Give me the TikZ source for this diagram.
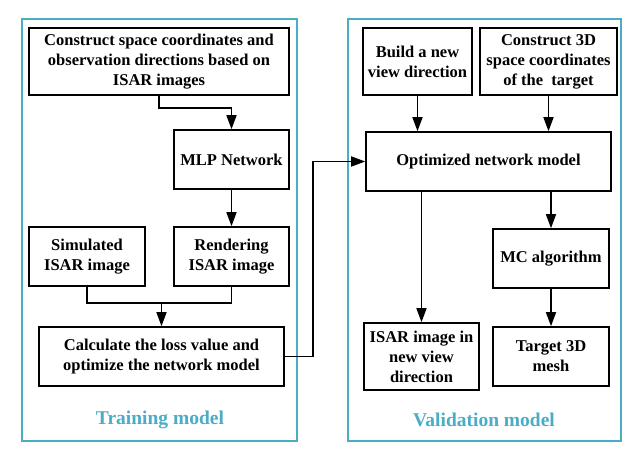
\documentclass[tikz,border=0pt]{standalone}
\usepackage{fontspec}
\setmainfont{Liberation Serif}
\usetikzlibrary{arrows.meta,calc}

\definecolor{panelblue}{RGB}{75,172,198}

\tikzset{
  box/.style={draw, line width=1.6pt, align=center, inner sep=1pt,
    font=\fontsize{16.5}{20}\selectfont\bfseries},
  panel/.style={draw=panelblue, line width=1.6pt},
  paneltitle/.style={text=panelblue, font=\fontsize{19.5}{22}\selectfont\bfseries},
  line/.style={line width=1.6pt},
  arrow/.style={line, -{Triangle[length=14pt,width=10pt]}}
}

\begin{document}
\begin{tikzpicture}[x=1pt,y=-1pt]
    \useasboundingbox (0,0) rectangle (642,455);
    \draw[panel] (22,19) rectangle (297,441);
    \draw[panel] (348,19) rectangle (621,441);
    \node[paneltitle] (trainlabel) at (160,420) {Training model};
    \node[paneltitle] (validlabel) at (484,420) {Validation model};

    \node[box, minimum width=260pt, minimum height=67pt] (construct) at (159,61.5)
      {Construct space coordinates and\\observation directions based on\\ISAR images};
    \node[box, minimum width=115pt, minimum height=59pt] (mlp) at (231.5,159.5) {MLP Network};
    \node[box, minimum width=116pt, minimum height=59pt] (simulated) at (87,256.5) {Simulated\\ISAR image};
    \node[box, minimum width=115pt, minimum height=59pt] (rendering) at (231.5,256.5) {Rendering\\ISAR image};
    \node[box, minimum width=245pt, minimum height=59pt] (calc) at (161.5,356.5)
      {Calculate the loss value and\\optimize the network model};

    \node[box, minimum width=109pt, minimum height=67pt] (build) at (417.5,61.5) {Build a new\\view direction};
    \node[box, minimum width=137pt, minimum height=67pt] (construct3d) at (548.5,61.5)
      {Construct 3D\\space coordinates\\of the\ \ target};
    \node[box, minimum width=245pt, minimum height=59pt] (optimized) at (488.5,161.5) {Optimized network model};
    \node[box, minimum width=116pt, minimum height=59pt] (mc) at (551,258.5) {MC algorithm};
    \node[box, minimum width=115pt, minimum height=67pt] (isarnew) at (421.5,356.5)
      {ISAR image in\\new view\\direction};
    \node[box, minimum width=116pt, minimum height=59pt] (mesh) at (551,356.5) {Target 3D\\mesh};

    \draw[arrow] (construct.south) -- ++(0,12) -| (mlp.north);
    \draw[arrow] (mlp) -- (rendering);
    \draw[line] (simulated.south) -- ++(0,16) coordinate (join) -| (rendering.south);
    \draw[arrow] (join -| calc.north) -- (calc.north);
    \draw[arrow] (calc.east) -- ++(28,0) |- (optimized.west);

    \draw[arrow] (build.south) -- (build.south |- optimized.north);
    \draw[arrow] (construct3d.south) -- (construct3d.south |- optimized.north);
    \draw[arrow] (isarnew.north |- optimized.south) -- (isarnew.north);
    \draw[arrow] (mc.north |- optimized.south) -- (mc.north);
    \draw[arrow] (mc) -- (mesh);
\end{tikzpicture}
\end{document}
